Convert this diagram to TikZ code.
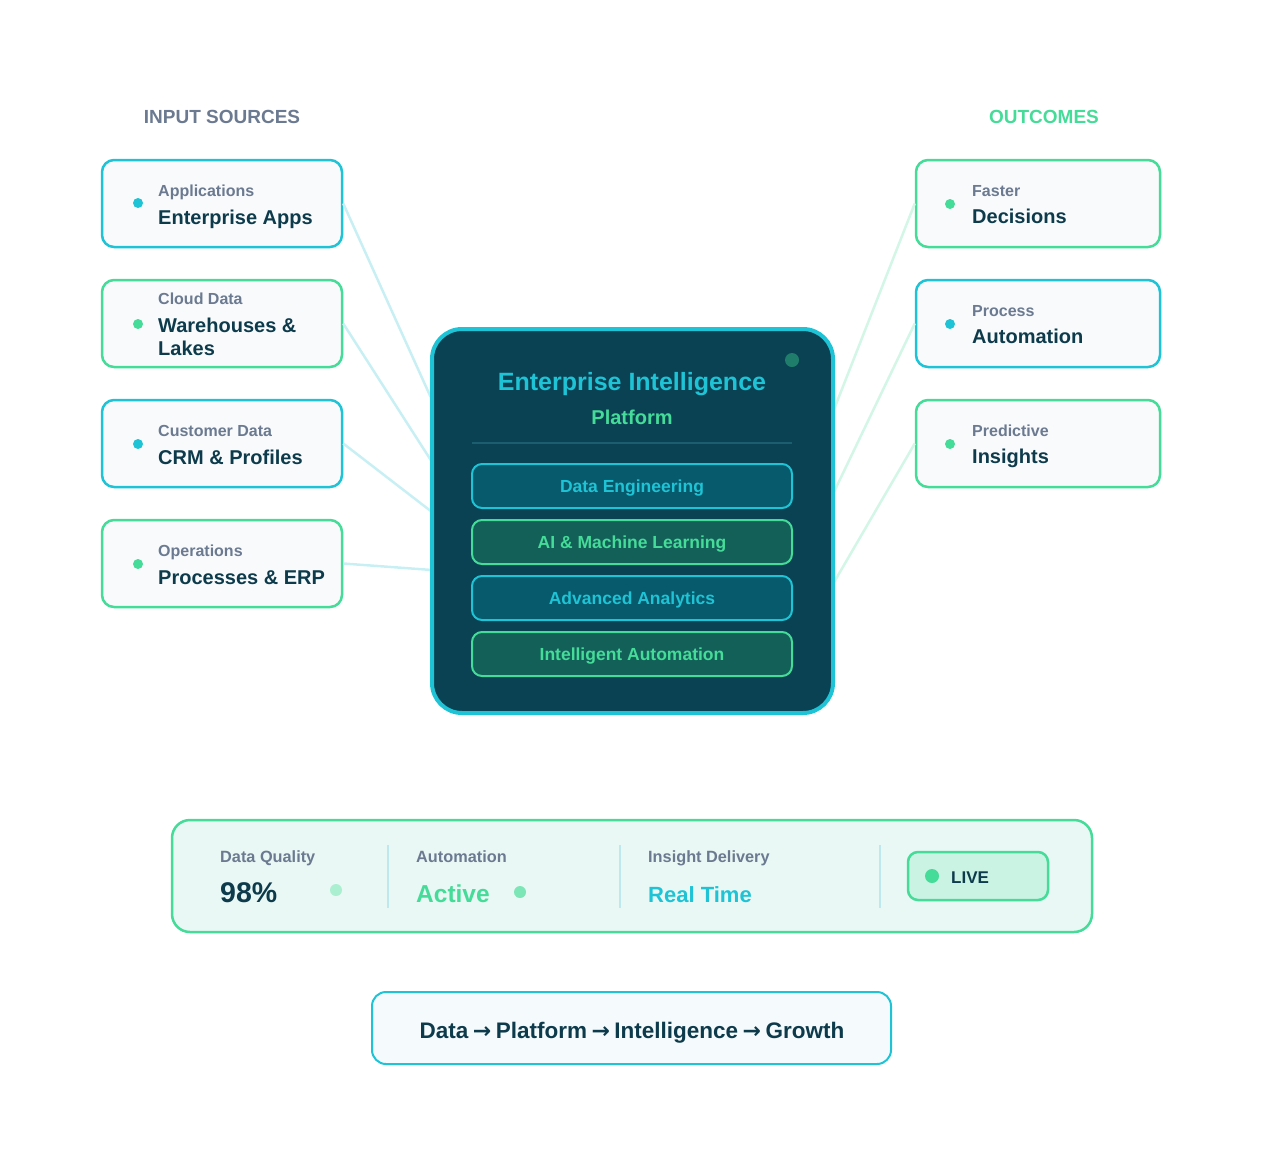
\documentclass[tikz,border=0pt]{standalone}
\usepackage{fontspec}
\setmainfont{Liberation Sans}
\newfontfamily\arrowfont{DejaVu Sans}
\usetikzlibrary{positioning}

\definecolor{cyanc}{HTML}{1EC4D6}
\definecolor{greenc}{HTML}{45DB98}
\definecolor{inkc}{HTML}{0E3B4C}
\definecolor{grayc}{HTML}{6B7A90}
\definecolor{cardfill}{HTML}{F8FAFC}
\definecolor{hubfill}{HTML}{0B4253}
\definecolor{hubdot}{HTML}{1F7D6B}
\definecolor{hubrule}{HTML}{1B5E70}
\definecolor{barcyan}{HTML}{075A6B}
\definecolor{bargreen}{HTML}{136059}
\definecolor{linkin}{HTML}{C8F0F4}
\definecolor{linkout}{HTML}{D3F6E6}
\definecolor{panelfill}{HTML}{E9F8F4}
\definecolor{sepc}{HTML}{BDE8EE}
\definecolor{livefill}{HTML}{CBF3E3}
\definecolor{footfill}{HTML}{F5FAFC}

\newcommand{\flowto}{{\hspace{0.2em}\arrowfont\bfseries\fontsize{22}{25}\selectfont→\hspace{0.2em}}}

\begin{document}
\begin{tikzpicture}[x=1pt, y=-1pt,
    card/.style={draw, line width=2.5pt, rounded corners=12pt, fill=cardfill,
        minimum width=240pt, minimum height=87pt, inner sep=0pt},
    dot/.style={circle, inner sep=0pt, minimum size=10pt},
    sub/.style={anchor=base west, inner sep=0pt, text=grayc,
        font=\bfseries\fontsize{16}{18}\selectfont},
    main/.style={anchor=base west, inner sep=0pt, text=inkc,
        font=\bfseries\fontsize{20}{22}\selectfont},
    head/.style={inner sep=0pt, font=\bfseries\fontsize{19}{21}\selectfont},
    bar/.style={draw, line width=2pt, rounded corners=10pt, minimum width=320pt,
        minimum height=44pt, text height=12.5pt, text depth=0pt,
        font=\bfseries\fontsize{17.5}{19}\selectfont},
    wirein/.style={draw=linkin, line width=2.5pt},
    wireout/.style={draw=linkout, line width=2.5pt},
    statlabel/.style={anchor=base west, inner sep=0pt, text=grayc,
        font=\bfseries\fontsize{16.3}{18}\selectfont},
    sep/.style={draw=sepc, line width=1.5pt}]

\useasboundingbox (0,0) rectangle (1264,1160);

% column headings
\node[head, text=grayc] (inhead) at (222,117) {INPUT SOURCES};
\node[head, text=greenc] (outhead) at (1044,117) {OUTCOMES};

% input sources
\node[card, draw=cyanc] (apps) at (222,203.5) {};
\node[dot, fill=cyanc] (appsdot) at (138,203) {};
\node[sub] (appssub) at (158,196) {Applications};
\node[main] (appsmain) at (158,224) {Enterprise Apps};

\node[card, draw=greenc] (cloud) at (222,323.5) {};
\node[dot, fill=greenc] (clouddot) at (138,324) {};
\node[sub] (cloudsub) at (158,304) {Cloud Data};
\node[main] (cloudmain) at (158,332) {Warehouses \&};
\node[main] (cloudmain2) at (158,355) {Lakes};

\node[card, draw=cyanc] (crm) at (222,443.5) {};
\node[dot, fill=cyanc] (crmdot) at (138,444) {};
\node[sub] (crmsub) at (158,436) {Customer Data};
\node[main] (crmmain) at (158,464) {CRM \& Profiles};

\node[card, draw=greenc] (erp) at (222,563.5) {};
\node[dot, fill=greenc] (erpdot) at (138,564) {};
\node[sub] (erpsub) at (158,556) {Operations};
\node[main] (erpmain) at (158,584) {Processes \& ERP};

% outcomes
\node[card, draw=greenc, minimum width=244pt] (fast) at (1038,203.5) {};
\node[dot, fill=greenc] (fastdot) at (950,204) {};
\node[sub] (fastsub) at (972,196) {Faster};
\node[main] (fastmain) at (972,223) {Decisions};

\node[card, draw=cyanc, minimum width=244pt] (auto) at (1038,323.5) {};
\node[dot, fill=cyanc] (autodot) at (950,324) {};
\node[sub] (autosub) at (972,316) {Process};
\node[main] (automain) at (972,343) {Automation};

\node[card, draw=greenc, minimum width=244pt] (pred) at (1038,443.5) {};
\node[dot, fill=greenc] (preddot) at (950,444) {};
\node[sub] (predsub) at (972,436) {Predictive};
\node[main] (predmain) at (972,463) {Insights};

% wires into and out of the platform
\coordinate (in1) at (432,400);
\coordinate (in2) at (432,462);
\coordinate (in3) at (432,512);
\coordinate (in4) at (432,570);
\coordinate (out1) at (833,412);
\coordinate (out2) at (833,494);
\coordinate (out3) at (833,584);
\draw[wirein] (apps.east) -- (in1);
\draw[wirein] (cloud.east) -- (in2);
\draw[wirein] (crm.east) -- (in3);
\draw[wirein] (erp.east) -- (in4);
\draw[wireout] (fast.west) -- (out1);
\draw[wireout] (auto.west) -- (out2);
\draw[wireout] (pred.west) -- (out3);

% platform
\node[draw=cyanc, line width=4pt, fill=hubfill, rounded corners=30pt,
    minimum width=401pt, minimum height=384pt] (hub) at (632.5,521) {};
\node[dot, fill=hubdot, minimum size=14pt] (hubdot) at (792,360) {};
\node[inner sep=0pt, anchor=base, text=cyanc,
    font=\bfseries\fontsize{25}{28}\selectfont] (hubtitle) at (632,390) {Enterprise Intelligence};
\node[inner sep=0pt, anchor=base, text=greenc,
    font=\bfseries\fontsize{20}{22}\selectfont] (hubsub) at (632,424) {Platform};
\draw[hubrule, line width=1.5pt] (472,443) -- (792,443);

\node[bar, draw=cyanc, fill=barcyan, text=cyanc] (deng) at (632,486) {Data Engineering};
\node[bar, draw=greenc, fill=bargreen, text=greenc] (aiml) at (632,542) {AI \& Machine Learning};
\node[bar, draw=cyanc, fill=barcyan, text=cyanc] (anly) at (632,598) {Advanced Analytics};
\node[bar, draw=greenc, fill=bargreen, text=greenc] (iaut) at (632,654) {Intelligent Automation};

% status panel
\node[draw=greenc, line width=2.5pt, fill=panelfill, rounded corners=18pt,
    minimum width=920pt, minimum height=112pt] (stats) at (632,876) {};
\draw[sep] (388,845) -- (388,908);
\draw[sep] (620,845) -- (620,908);
\draw[sep] (880,845) -- (880,908);

\node[statlabel] (dqlabel) at (220,862) {Data Quality};
\node[anchor=base west, inner sep=0pt, text=inkc,
    font=\bfseries\fontsize{28.5}{32}\selectfont] (dqval) at (220,902) {98\%};
\node[dot, fill=greenc!45, minimum size=12pt] (dqdot) at (336,890) {};

\node[statlabel] (aulabel) at (416,862) {Automation};
\node[anchor=base west, inner sep=0pt, text=greenc,
    font=\bfseries\fontsize{24.5}{28}\selectfont] (auval) at (416,902) {Active};
\node[dot, fill=greenc!70, minimum size=12pt] (audot) at (520,892) {};

\node[statlabel] (idlabel) at (648,862) {Insight Delivery};
\node[anchor=base west, inner sep=0pt, text=cyanc,
    font=\bfseries\fontsize{22}{26}\selectfont] (idval) at (648,902) {Real Time};

\node[draw=greenc, line width=2.5pt, fill=livefill, rounded corners=10pt,
    minimum width=140pt, minimum height=48pt] (live) at (978,876) {};
\node[dot, fill=greenc, minimum size=14pt] (livedot) at (932,876) {};
\node[anchor=base west, inner sep=0pt, text=inkc,
    font=\bfseries\fontsize{17}{19}\selectfont] (livetxt) at (951,883) {LIVE};

% flow footer
\node[draw=cyanc, line width=2pt, fill=footfill, rounded corners=14pt,
    minimum width=519pt, minimum height=72pt] (flow) at (631.5,1028) {};
\node[anchor=base, inner sep=0pt, text=inkc,
    font=\bfseries\fontsize{22.5}{25}\selectfont] (flowtxt) at (632,1038)
    {Data\flowto Platform\flowto Intelligence\flowto Growth};

\end{tikzpicture}
\end{document}
